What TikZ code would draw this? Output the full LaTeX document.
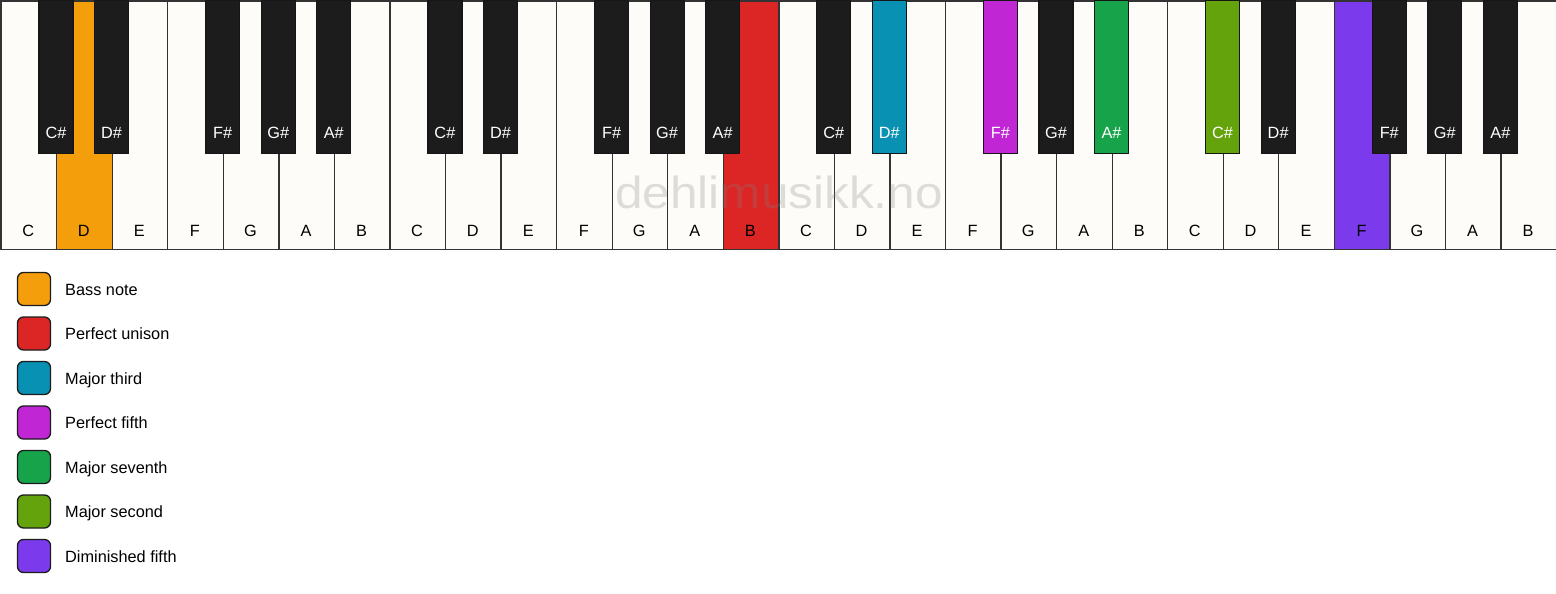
\documentclass[tikz,border=0pt]{standalone}
\usepackage{fontspec}
\setmainfont{Liberation Sans}
\definecolor{wk}{HTML}{FDFCF8}
\definecolor{bk}{HTML}{1C1C1C}
\definecolor{edge}{HTML}{333333}
\definecolor{bass}{HTML}{F59E0B}
\definecolor{unison}{HTML}{DC2626}
\definecolor{third}{HTML}{0891B2}
\definecolor{fifth}{HTML}{C026D3}
\definecolor{seventh}{HTML}{16A34A}
\definecolor{second}{HTML}{65A30D}
\definecolor{dimfifth}{HTML}{7C3AED}
\tikzset{
  whitekey/.style={draw=edge, line width=1.3pt, minimum width=55.55pt, minimum height=248.5pt, inner sep=0pt, anchor=north west},
  blackkey/.style={draw=bk!80!black, line width=1.2pt, minimum width=34pt, minimum height=153pt, inner sep=0pt, anchor=north},
  wlabel/.style={font=\fontsize{16.3}{19}\selectfont, text=black, inner sep=0pt, anchor=base},
  blabel/.style={font=\fontsize{16.3}{19}\selectfont, text=white, inner sep=0pt, anchor=base},
  legbox/.style={draw=bk, line width=1.3pt, rounded corners=6pt, minimum width=33pt, minimum height=33pt, inner sep=0pt},
  legtext/.style={font=\fontsize{16.3}{19}\selectfont, anchor=base west, inner sep=0pt},
  watermark/.style={font=\fontsize{45}{50}\selectfont, text=gray, opacity=0.25, inner sep=0pt, anchor=base}
}
\begin{document}
\begin{tikzpicture}[x=1pt,y=-1pt]
\useasboundingbox[fill=white] (0,0) rectangle (1556,594);
% white keys
\foreach \i/\nm/\col in {0/C/wk,1/D/bass,2/E/wk,3/F/wk,4/G/wk,5/A/wk,6/B/wk,
  7/C/wk,8/D/wk,9/E/wk,10/F/wk,11/G/wk,12/A/wk,13/B/unison,
  14/C/wk,15/D/wk,16/E/wk,17/F/wk,18/G/wk,19/A/wk,20/B/wk,
  21/C/wk,22/D/wk,23/E/wk,24/F/dimfifth,25/G/wk,26/A/wk,27/B/wk}{
  \node[whitekey, fill=\col] (w\i) at ({0.5+55.55*\i},0.5) {};
  \node[wlabel] (wl\i) at ({0.5+55.55*(\i+0.5)},236) {\nm};
}
% watermark
\node[watermark] (wm) at (779,208) {\scalebox{1.1}[1]{dehlimusikk.no}};
% black keys
\foreach \k/\nm/\col in {1/C/bk,2/D/bk,4/F/bk,5/G/bk,6/A/bk,
  8/C/bk,9/D/bk,11/F/bk,12/G/bk,13/A/bk,
  15/C/bk,16/D/third,18/F/fifth,19/G/bk,20/A/seventh,
  22/C/second,23/D/bk,25/F/bk,26/G/bk,27/A/bk}{
  \node[blackkey, fill=\col] (b\k) at ({0.5+55.55*\k},0) {};
  \node[blabel] (bl\k) at ({0.5+55.55*\k},138.3) {\nm\#};
}
% legend
\foreach \j/\col/\txt in {0/bass/Bass note,1/unison/Perfect unison,2/third/Major third,
  3/fifth/Perfect fifth,4/seventh/Major seventh,5/second/Major second,6/dimfifth/Diminished fifth}{
  \node[legbox, fill=\col] (lg\j) at (34,{289+44.5*\j}) {};
  \node[legtext] (lt\j) at (65,{295.3+44.5*\j}) {\txt};
}
\end{tikzpicture}
\end{document}
